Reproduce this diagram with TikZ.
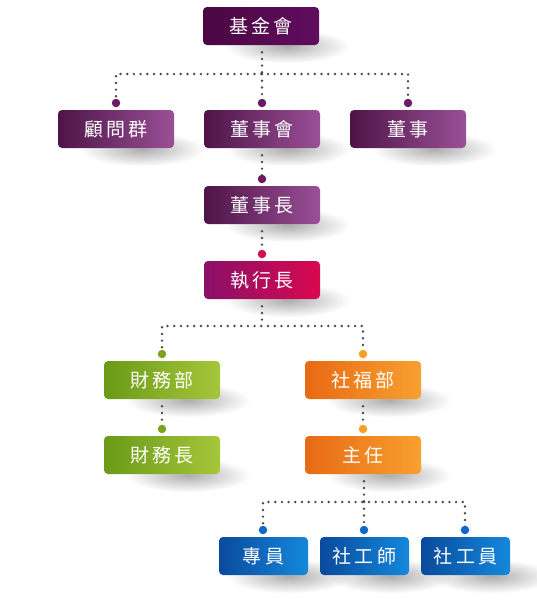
\documentclass[tikz,border=0pt]{standalone}
\usepackage{fontspec}
\newfontfamily\cjk{Noto Sans CJK TC}
\usetikzlibrary{fadings,backgrounds}
\definecolor{toplc}{HTML}{4A0842}
\definecolor{toprc}{HTML}{600C5E}
\definecolor{purlc}{HTML}{4E1448}
\definecolor{purrc}{HTML}{9A5096}
\definecolor{ceolc}{HTML}{8A1068}
\definecolor{ceorc}{HTML}{D8084E}
\definecolor{grnlc}{HTML}{6A9A18}
\definecolor{grnrc}{HTML}{A6C63A}
\definecolor{orglc}{HTML}{E86A14}
\definecolor{orgrc}{HTML}{F8A030}
\definecolor{blulc}{HTML}{0A4A9C}
\definecolor{blurc}{HTML}{1488DC}
\definecolor{pdot}{HTML}{6C1A64}
\definecolor{rdot}{HTML}{D0104C}
\definecolor{gdot}{HTML}{80A020}
\definecolor{odot}{HTML}{F8A020}
\definecolor{bdot}{HTML}{1068C8}
\definecolor{dotgray}{HTML}{4A4A4A}
\tikzfading[name=shadowfade, inner color=transparent!0, outer color=transparent!100]
\newcommand\hs{\hspace{3.5pt}}
\newcommand\boxshadow[1]{\fill[black, opacity=.32, path fading=shadowfade] ([xshift=26pt,yshift=-1pt]#1.south) ellipse (62 and 17);}
\begin{document}
\begin{tikzpicture}[x=1pt,y=-1pt,
  orgbox/.style={rounded corners=4pt, minimum width=116pt, minimum height=38pt, inner sep=0pt,
    text=white, font=\cjk\fontsize{19}{20}\selectfont},
  smallbox/.style={orgbox, minimum width=89pt},
  topbox/.style={orgbox, left color=toplc, right color=toprc},
  purbox/.style={orgbox, left color=purlc, right color=purrc},
  ceobox/.style={orgbox, left color=ceolc, right color=ceorc},
  grnbox/.style={orgbox, left color=grnlc, right color=grnrc},
  orgnbox/.style={orgbox, left color=orglc, right color=orgrc},
  blubox/.style={smallbox, left color=blulc, right color=blurc},
  dotnode/.style={circle, inner sep=0pt, minimum size=8.5pt, fill=#1},
  conn/.style={draw=dotgray, line width=2.7pt, line cap=round, dash pattern=on 0pt off 6.7pt},
  gap/.style={shorten <=7pt}]
\useasboundingbox (0,0) rectangle (536,600);

% boxes
\node[topbox] (top) at (261,26) {基\hs 金\hs 會};
\node[purbox] (g1) at (116,129) {顧\hs 問\hs 群};
\node[purbox] (g2) at (262,129) {董\hs 事\hs 會};
\node[purbox] (g3) at (408,129) {董\hs 事};
\node[purbox] (chair) at (262,205) {董\hs 事\hs 長};
\node[ceobox] (ceo) at (262,280) {執\hs 行\hs 長};
\node[grnbox] (fin) at (162,380) {財\hs 務\hs 部};
\node[orgnbox] (soc) at (363,380) {社\hs 福\hs 部};
\node[grnbox] (cfo) at (162,455) {財\hs 務\hs 長};
\node[orgnbox] (dir) at (363,455) {主\hs 任};
\node[blubox] (s1) at (263.5,556) {專\hs 員};
\node[blubox] (s2) at (364.5,556) {社\hs 工\hs 師};
\node[blubox] (s3) at (465.5,556) {社\hs 工\hs 員};

% junctions
\coordinate (j1) at (262,74);
\coordinate (j2) at (262,326);
\coordinate (j3) at (364,502);

% dots
\node[dotnode=pdot] (d1) at (116,103) {};
\node[dotnode=pdot] (d2) at (262,103) {};
\node[dotnode=pdot] (d3) at (408,103) {};
\node[dotnode=pdot] (d4) at (262,179) {};
\node[dotnode=rdot] (d5) at (262,254) {};
\node[dotnode=gdot] (d6) at (162,354) {};
\node[dotnode=odot] (d7) at (363,354) {};
\node[dotnode=gdot] (d8) at (162,429) {};
\node[dotnode=odot] (d9) at (363,429) {};
\node[dotnode=bdot] (d10) at (263,530) {};
\node[dotnode=bdot] (d11) at (364,530) {};
\node[dotnode=bdot] (d12) at (465,530) {};

\begin{scope}[on background layer]
  \foreach \b in {top,g1,g2,g3,chair,ceo,fin,soc,cfo,dir,s1,s2,s3}{\boxshadow{\b}}
  \draw[conn, gap] (top.south -| j1) -- (j1);
  \draw[conn] (d1.center) |- (j1) -| (d3.center);
  \draw[conn] (j1) -- (d2.center);
  \draw[conn, gap] (g2.south) -- (d4.center);
  \draw[conn, gap] (chair.south) -- (d5.center);
  \draw[conn, gap] (ceo.south) -- (j2);
  \draw[conn] (d6.center) |- (j2) -| (d7.center);
  \draw[conn, gap] (fin.south) -- (d8.center);
  \draw[conn, gap] (soc.south) -- (d9.center);
  \draw[conn, gap] (dir.south -| j3) -- (j3);
  \draw[conn] (d10.center) |- (j3) -| (d12.center);
  \draw[conn] (j3) -- (d11.center);
\end{scope}
\end{tikzpicture}
\end{document}
